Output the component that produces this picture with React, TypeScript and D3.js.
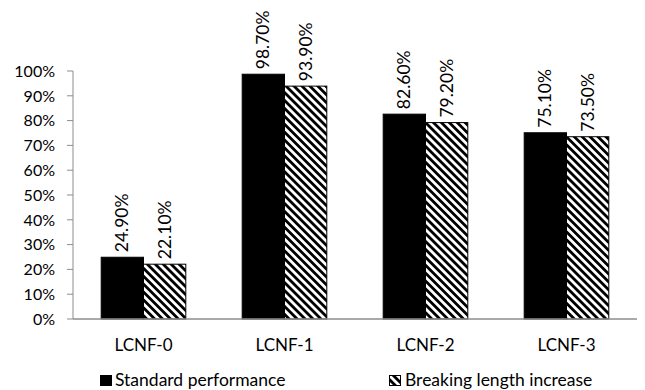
import React from 'react';
import * as d3 from 'd3';

const categories = ['LCNF-0', 'LCNF-1', 'LCNF-2', 'LCNF-3'];
const seriesNames = ['Standard performance', 'Breaking length increase'];
const standardValues = [24.9, 98.7, 82.6, 75.1];
const breakingValues = [22.1, 93.9, 79.2, 73.5];
const yTicks = [0, 10, 20, 30, 40, 50, 60, 70, 80, 90, 100];

const W = 645;
const H = 390;
const FONT = 'Lato, "Open Sans", sans-serif';

const App: React.FC = () => {
  const left = 73;
  const right = 637;
  const top = 71;
  const bottom = 319;

  const x = d3.scaleBand<string>().domain(categories).range([left, right]).paddingInner(0.4).paddingOuter(0.2);
  const sub = d3.scaleBand<number>().domain([0, 1]).range([0, x.bandwidth()]);
  const y = d3.scaleLinear().domain([0, 100]).range([bottom, top]);

  const series = [standardValues, breakingValues];

  return (
    <svg width={W} height={H} style={{ position: 'absolute', left: 0, top: 0, background: '#fff' }}>
      <defs>
        <pattern id="hatch" patternUnits="userSpaceOnUse" width="5.6" height="5.6" patternTransform="rotate(-45)">
          <rect width="5.6" height="5.6" fill="#fff" />
          <rect x="0" y="0" width="2.8" height="5.6" fill="#000" />
        </pattern>
      </defs>

      {/* y axis */}
      <line x1={left} x2={left} y1={y(100)} y2={y(0)} stroke="#8c8c8c" strokeWidth={1} />
      {yTicks.map(t => (
        <g key={t}>
          <line x1={left - 6} x2={left} y1={y(t)} y2={y(t)} stroke="#8c8c8c" />
          <text x={left - 18} y={y(t)} dy="0.36em" textAnchor="end" fontFamily={FONT} fontSize={16} fill="#000">
            {t}%
          </text>
        </g>
      ))}

      {/* bars */}
      {categories.map((c, i) => (
        <g key={c}>
          {series.map((vals, s) => {
            const bx = (x(c) as number) + (sub(s) as number);
            const by = y(vals[i]);
            return (
              <g key={s}>
                <rect
                  x={bx}
                  y={by}
                  width={sub.bandwidth()}
                  height={y(0) - by}
                  fill={s === 0 ? '#000' : 'url(#hatch)'}
                  stroke="#000"
                  strokeWidth={1}
                />
                <text
                  transform={`translate(${bx + sub.bandwidth() / 2 + 6},${by - 5}) rotate(-90)`}
                  fontFamily={FONT}
                  fontSize={17.5}
                  fill="#000"
                >
                  {vals[i].toFixed(2)}%
                </text>
              </g>
            );
          })}
          <text
            x={(x(c) as number) + x.bandwidth() / 2}
            y={345}
            dy="0.36em"
            textAnchor="middle"
            fontFamily={FONT}
            fontSize={17}
            fill="#000"
          >
            {c}
          </text>
        </g>
      ))}

      {/* x axis */}
      <line x1={left} x2={right} y1={y(0)} y2={y(0)} stroke="#8c8c8c" strokeWidth={1.5} />

      {/* legend */}
      <rect x={100} y={375} width={12} height={11} fill="#000" />
      <text x={115} y={386} fontFamily={FONT} fontSize={17.5} fill="#000">{seriesNames[0]}</text>
      <rect x={389.5} y={375.5} width={11} height={10} fill="url(#hatch)" stroke="#000" />
      <text x={405} y={386} fontFamily={FONT} fontSize={17.5} fill="#000">{seriesNames[1]}</text>
    </svg>
  );
};

export default App;
